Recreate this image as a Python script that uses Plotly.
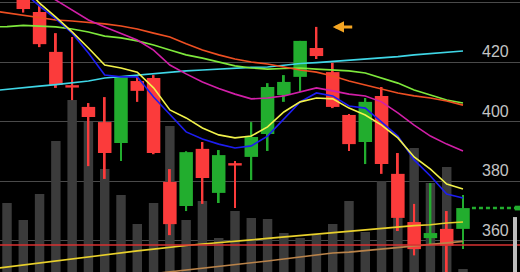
import plotly.graph_objects as go

# ---------------- data ----------------
idx = list(range(29))
opens  = [446.0, 442.5, 436.8, 423.4, 411.8, 404.9, 399.8, 392.8, 413.6, 414.6,
          379.7, 371.6, 390.8, 376.0, 385.4, 388.1, 395.8, 408.9, 415.0, 424.7,
          416.6, 402.2, 393.1, 408.6, 382.4, 366.2, 360.8, 363.9, 363.9]
highs  = [447.0, 444.0, 439.2, 429.7, 428.4, 406.2, 408.2, 415.2, 415.6, 415.6,
          384.0, 390.0, 393.1, 390.4, 386.7, 399.8, 412.9, 415.6, 427.1, 431.8,
          419.7, 402.5, 407.9, 411.6, 389.4, 372.3, 379.3, 369.9, 375.3]
lows   = [442.0, 436.6, 425.0, 411.3, 407.2, 385.0, 380.7, 386.7, 406.6, 389.0,
          361.8, 369.9, 372.3, 372.6, 370.9, 380.3, 390.1, 406.6, 409.9, 421.0,
          404.5, 390.1, 385.7, 382.4, 363.2, 355.0, 358.8, 348.0, 357.1]
closes = [443.0, 437.8, 426.0, 412.3, 411.4, 401.5, 389.4, 415.0, 410.3, 389.4,
          365.5, 389.7, 381.0, 388.7, 385.2, 394.8, 411.6, 413.3, 427.1, 422.0,
          404.9, 392.4, 406.6, 385.7, 367.6, 357.1, 362.5, 358.3, 370.9]
volumes = [6.9, 5.2, 7.8, 13.1, 17.2, 15.0, 10.3, 7.7, 4.8, 6.9,
           14.6, 5.2, 7.1, 3.4, 6.1, 5.4, 5.3, 3.9, 3.4, 3.7,
           4.8, 7.1, 4.0, 9.1, 7.2, 12.4, 8.9, 10.5, 0.3]

ma_idx = list(range(-1, 29))
ma_yellow = [461.0, 454.3, 445.5, 439.8, 435.1, 430.1, 424.7, 419.0, 418.0, 416.6,
             411.3, 403.9, 401.2, 397.8, 395.5, 394.5, 395.1, 398.2, 403.2, 406.6,
             407.9, 407.6, 404.5, 402.2, 398.8, 394.5, 388.1, 384.0, 379.0, 377.3]
ma_blue = [457.6, 449.2, 443.5, 438.8, 434.5, 429.7, 423.0, 415.6, 415.0, 415.0,
           408.2, 402.2, 396.5, 394.1, 392.4, 391.1, 391.8, 395.1, 400.8, 406.6,
           409.6, 408.6, 405.2, 404.5, 399.8, 395.1, 387.1, 381.7, 375.6, 374.3]
ma_magenta = [461.0, 454.3, 449.2, 444.2, 440.8, 437.5, 434.1, 431.8, 429.7, 427.4,
              424.0, 419.0, 416.0, 413.3, 411.1, 409.2, 407.6, 407.9, 408.6, 409.9,
              411.3, 410.3, 409.2, 408.6, 406.6, 402.9, 398.8, 395.1, 392.4, 390.1]
ma_orange = [437.3, 436.5, 435.5, 434.8, 434.1, 433.8, 433.4, 432.8, 432.1, 431.1,
             429.7, 428.4, 426.1, 424.0, 422.4, 421.0, 420.0, 419.3, 418.3, 417.3,
             416.6, 415.3, 413.6, 412.3, 410.9, 409.6, 408.6, 407.9, 406.9, 405.5]
ma_lime = [431.8, 431.9, 432.3, 432.1, 431.8, 431.1, 430.1, 428.7, 428.1, 427.1,
           425.7, 424.0, 422.4, 421.3, 420.0, 418.7, 418.0, 417.6, 417.8, 418.0,
           417.6, 417.3, 417.0, 416.3, 414.6, 412.9, 410.6, 408.9, 407.2, 406.2]
ma_cyan = [410.3, 410.9, 411.3, 411.9, 412.4, 412.9, 413.6, 414.6, 415.1, 415.6,
           416.1, 416.6, 417.0, 417.3, 417.6, 418.0, 418.2, 418.3, 419.0, 419.5,
           419.8, 420.2, 420.7, 421.0, 421.3, 421.8, 422.4, 422.9, 423.4, 423.7]
ma_gold = [350.4, 351.1, 351.8, 352.4, 353.1, 353.8, 354.5, 355.1, 355.8, 356.5,
           357.1, 357.8, 358.3, 358.8, 359.2, 359.7, 360.2, 360.7, 361.2, 361.7,
           362.2, 362.7, 363.2, 363.5, 364.0, 364.5, 365.0, 365.3, 365.9, 366.2]
ma_tan = [342.8, 343.4, 344.0, 344.6, 345.2, 345.8, 346.4, 347.0, 347.6, 348.2,
          348.7, 349.4, 350.1, 350.6, 351.3, 351.9, 352.4, 353.1, 353.8, 354.5,
          355.1, 355.8, 356.1, 356.6, 357.1, 357.6, 358.1, 358.8, 359.3, 359.7]
red_level = 358.5
tick_vals = [360, 380, 400, 420]
grid_vals = [360, 380, 400, 420, 440]
marked_idx = 19

# ---------------- styling ----------------
RED = "#fb3b3b"
GREEN = "#22ad2e"
colors = [RED if c <= o else GREEN for o, c in zip(opens, closes)]
body_base = [min(o, c) for o, c in zip(opens, closes)]
body_h = [max(abs(c - o), 0.8) for o, c in zip(opens, closes)]
wick_h = [h - l for h, l in zip(highs, lows)]

fig = go.Figure()
fig.add_trace(go.Bar(x=idx, y=volumes, width=0.58, marker=dict(color="#3b3b3b", line=dict(width=0)),
                     yaxis="y", showlegend=False))
fig.add_trace(go.Bar(x=idx, y=wick_h, base=lows, width=0.12, marker=dict(color=colors, line=dict(width=0)),
                     yaxis="y2", showlegend=False))
fig.add_trace(go.Bar(x=idx, y=body_h, base=body_base, width=0.83, marker=dict(color=colors, line=dict(width=0)),
                     yaxis="y2", showlegend=False))

line_specs = [
    (ma_tan, "#b9834a"), (ma_gold, "#e8d02c"), (ma_cyan, "#3fd6e6"), (ma_lime, "#7ee83c"),
    (ma_orange, "#ee4f22"), (ma_magenta, "#d21fa8"), (ma_blue, "#1d1df0"), (ma_yellow, "#f2f24a"),
]
for vals, col in line_specs:
    fig.add_trace(go.Scatter(x=ma_idx, y=vals, mode="lines", line=dict(color=col, width=1.6),
                             yaxis="y2", showlegend=False, hoverinfo="skip"))

shapes = [
    dict(type="line", xref="paper", x0=0, x1=1, yref="y2", y0=red_level, y1=red_level,
         line=dict(color="#d83232", width=1.5), layer="above"),
    dict(type="line", xref="x", x0=idx[-1] + 0.55, x1=31.3, yref="y2", y0=closes[-1], y1=closes[-1],
         line=dict(color=GREEN, width=2.5, dash="4px,3px"), layer="above"),
    dict(type="rect", xref="paper", x0=0.990, x1=1.0, yref="y2", y0=closes[-1] - 0.8, y1=closes[-1] + 0.8,
         fillcolor=GREEN, line=dict(width=0), layer="above"),
    dict(type="rect", xref="paper", x0=0.9865, x1=0.9942, yref="paper", y0=0, y1=0.202,
         fillcolor="#bdbdbd", line=dict(width=0), layer="above"),
]

annotations = [
    dict(xref="paper", x=0.9827, xanchor="right", yref="y2", y=v, yanchor="bottom",
         text=str(v), showarrow=False, font=dict(family="Liberation Sans", size=16, color="#c4c4c4"))
    for v in tick_vals
]
annotations.append(dict(xref="x", x=marked_idx + 1.0, yref="y2", y=highs[marked_idx], text="",
                        showarrow=True, arrowhead=2, arrowsize=0.75, arrowwidth=3, arrowcolor="#f5a623",
                        ax=21, ay=0, standoff=0))

fig.update_layout(
    width=520, height=272, margin=dict(l=0, r=0, t=0, b=0),
    paper_bgcolor="black", plot_bgcolor="black",
    barmode="overlay", showlegend=False,
    xaxis=dict(range=[-0.43, 31.5], visible=False, fixedrange=True),
    yaxis=dict(range=[0, 27.2], visible=False, fixedrange=True),
    yaxis2=dict(range=[349.41, 440.84], overlaying="y", showgrid=True, gridcolor="#4a4a4a", gridwidth=1,
                tickvals=grid_vals, showticklabels=False, ticks="", zeroline=False, showline=False),
    shapes=shapes, annotations=annotations,
)

fig.write_html("out.html")
